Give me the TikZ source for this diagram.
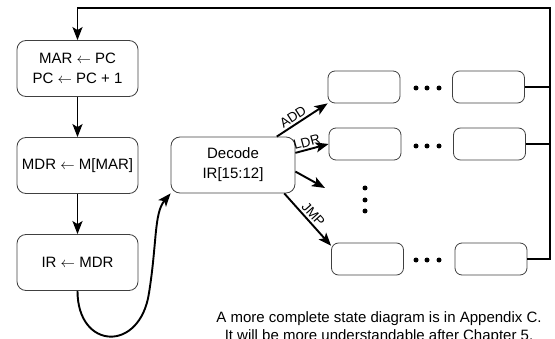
\documentclass[tikz,border=0pt]{standalone}
\usepackage{fontspec}
\setmainfont{Liberation Sans}
\usetikzlibrary{arrows.meta}

\begin{document}
\begin{tikzpicture}[x=1pt, y=1pt,
        state/.style={draw=black!75, line width=0.8pt, rounded corners=9pt, align=center, inner sep=1pt, font=\fontsize{15}{20}\selectfont},
        bigstate/.style={state, minimum width=121pt, minimum height=56pt},
        smallstate/.style={state, minimum width=72pt, minimum height=32pt, rounded corners=7pt},
        flow/.style={line width=1.9pt, -{Stealth[length=13pt, width=10pt, inset=3pt]}},
        opcode/.style={font=\fontsize{13.5}{13.5}\selectfont, inner sep=2pt}]
        \useasboundingbox (0,0) rectangle (555,338);

        % Fetch states
        \node[bigstate] (mar) at (77.5,269.5) {MAR $\leftarrow$ PC\\PC $\leftarrow$ PC + 1};
        \node[bigstate] (mdr) at (77.5,172.5) {MDR $\leftarrow$ M[MAR]};
        \node[bigstate] (ir) at (77.5,75.5) {IR $\leftarrow$ MDR};

        % Decode state
        \node[bigstate, minimum width=124pt] (decode) at (233,173) {Decode\\IR[15:12]};

        % Execute states
        \node[smallstate] (add1) at (364,251) {};
        \node[smallstate] (add2) at (488.5,251) {};
        \node[smallstate] (ldr1) at (365,194) {};
        \node[smallstate] (ldr2) at (489.5,194) {};
        \node[smallstate] (jmp1) at (367.5,79) {};
        \node[smallstate] (jmp2) at (491,79) {};

        % Fetch arrows
        \draw[flow] (mar) -- (mdr);
        \draw[flow] (mdr) -- (ir);
        \coordinate (rise) at (149,45);
        \draw[flow] (ir.south) .. controls (77.5,-12) and (140,-15) .. (rise) .. controls (157,95) and (154,125) .. (decode.south west);

        % Decode arrows
        \draw[flow] (decode.33) -- (add1.south west) node[opcode, pos=0.4, sloped, above] {ADD};
        \draw[flow] (decode.11) -- (ldr1.west) node[opcode, pos=0.4, sloped, above] {LDR};
        \coordinate (other) at (325,150);
        \draw[flow] (decode.-6) -- (other);
        \draw[flow] (decode.-29) -- (jmp1.160) node[opcode, pos=0.5, sloped, above] {JMP};

        % Dots between states
        \fill (416,250) circle (2.5pt);
        \fill (427,250) circle (2.5pt);
        \fill (439,250) circle (2.5pt);
        \fill (416,192) circle (2.5pt);
        \fill (427,192) circle (2.5pt);
        \fill (439,192) circle (2.5pt);
        \fill (416,78) circle (2.5pt);
        \fill (427,78) circle (2.5pt);
        \fill (439,78) circle (2.5pt);
        \fill (365,150) circle (2.5pt);
        \fill (365,138) circle (2.5pt);
        \fill (365,127) circle (2.5pt);

        % Back to fetch
        \coordinate (corner) at (550,330);
        \draw[flow] (jmp2.east) -| (corner) -| (mar.north);
        \draw[line width=1.4pt] (add2.east) -- (add2.east -| corner);
        \draw[line width=1.4pt] (ldr2.east) -- (ldr2.east -| corner);

        % Note
        \node[font=\fontsize{15}{18}\selectfont, align=center, inner sep=0pt] (note) at (379,10) {A more complete state diagram is in Appendix C.\\It will be more understandable after Chapter 5.};

    \end{tikzpicture}
\end{document}
